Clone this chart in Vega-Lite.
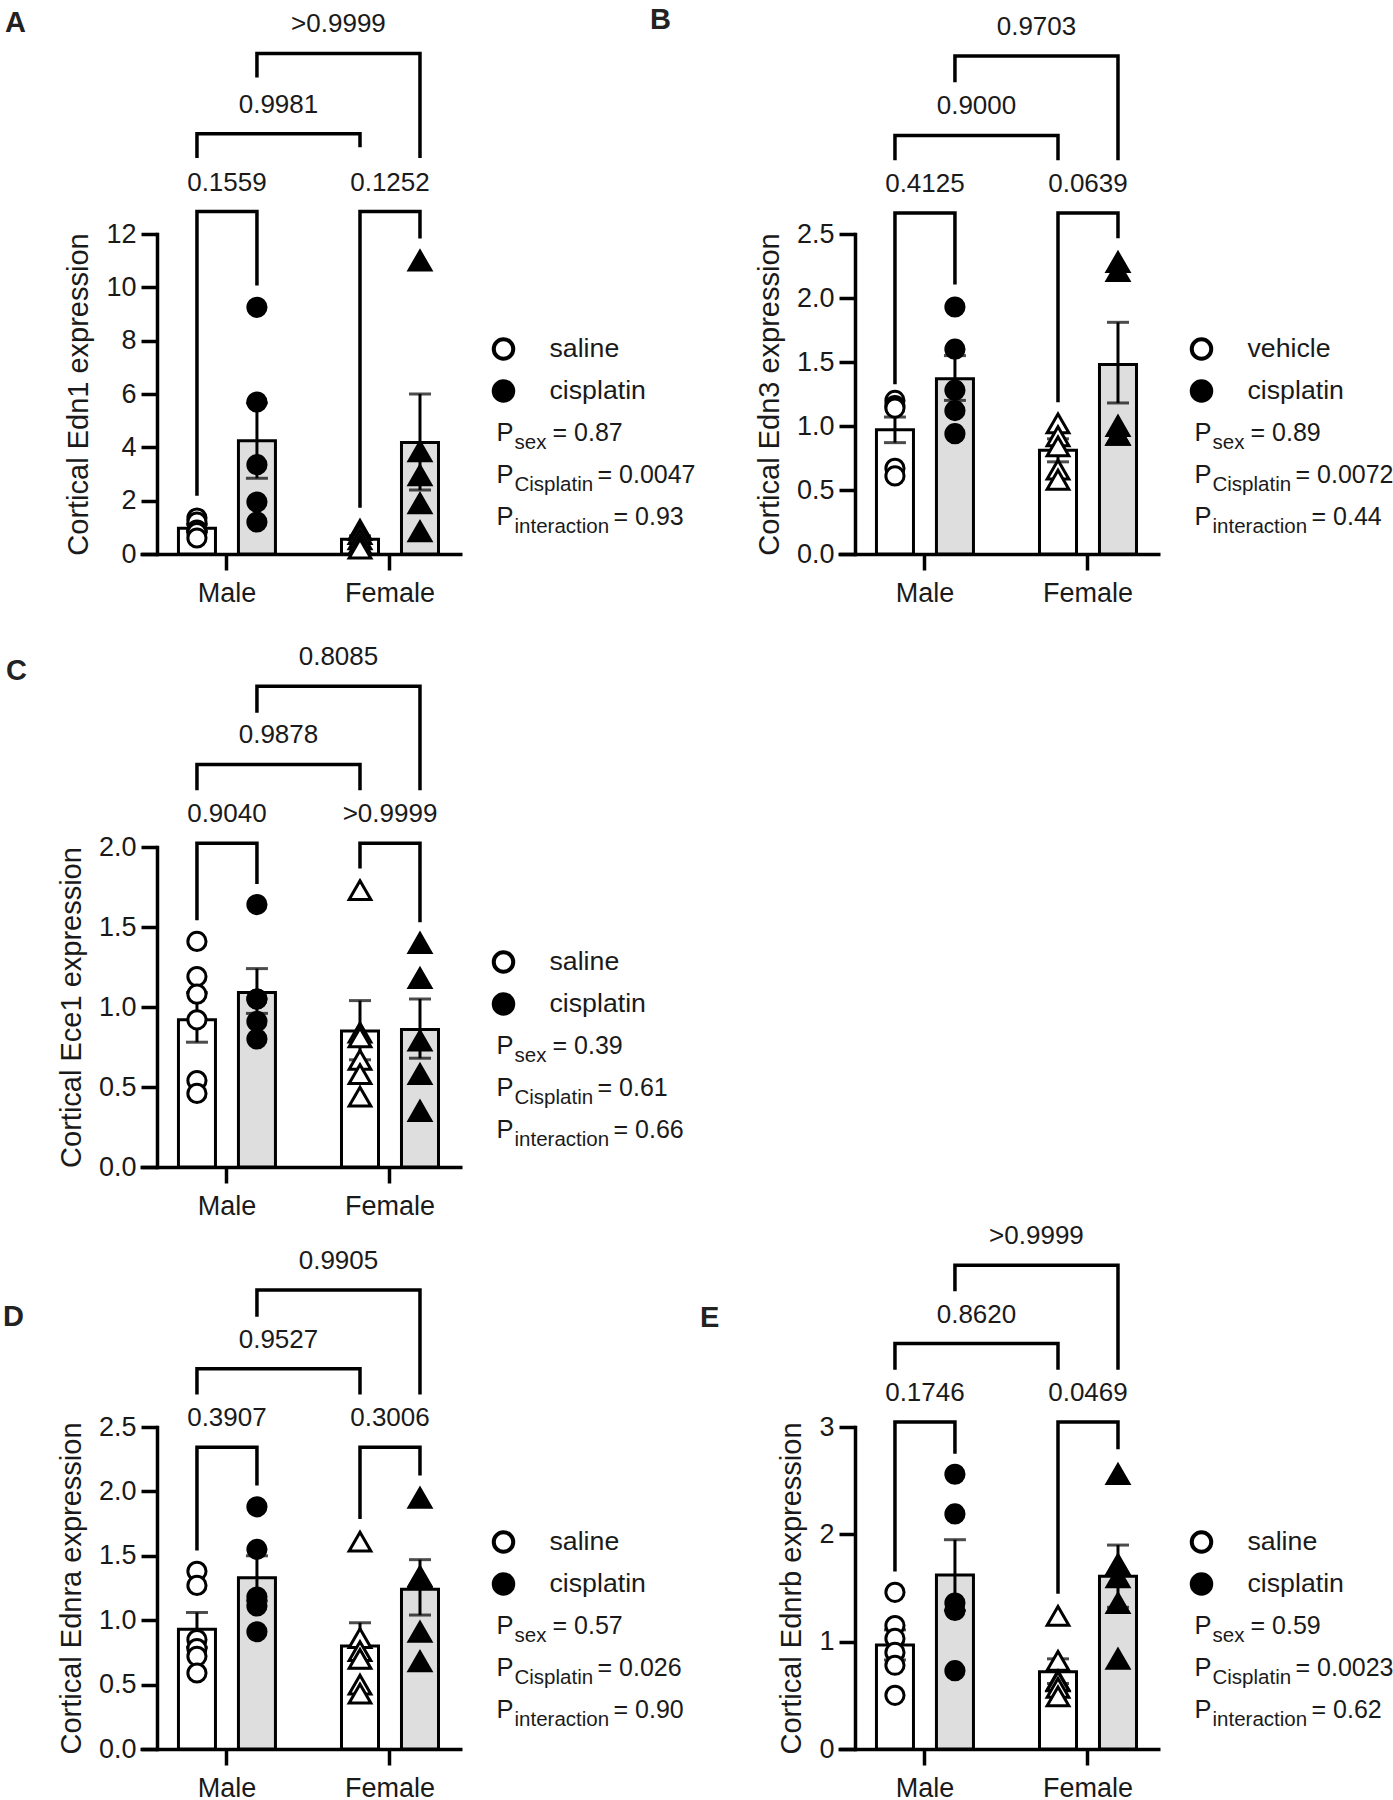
{
 "$schema": "https://vega.github.io/schema/vega-lite/v6.json",
 "padding": {"top": 6, "left": 0, "right": 0, "bottom": 0},
 "background": "white",
 "config": {
  "font": "Liberation Sans",
  "view": {"stroke": null},
  "axis": {"grid": false, "domainColor": "black", "domainWidth": 3.5, "tickColor": "black", "tickWidth": 3.5, "tickSize": 16, "labelColor": "#1a1a1a", "titleColor": "#1a1a1a", "titleFontWeight": "normal", "labelFontSize": 27, "titleFontSize": 29, "labelFont": "Liberation Sans", "titleFont": "Liberation Sans"},
  "axisY": {"labelPadding": 5, "titlePadding": 12, "offset": -17, "labelFlush": false, "labelOverlap": false, "domainCap": "square"},
  "axisX": {"labelPadding": 10, "labelFlush": false, "labelAngle": 0}
 },
 "datasets": {
  "pts": [
   {"p":"A","sex":"Male","trt":"control","v":1.35},{"p":"A","sex":"Male","trt":"control","v":1.2},{"p":"A","sex":"Male","trt":"control","v":0.9},{"p":"A","sex":"Male","trt":"control","v":0.8},{"p":"A","sex":"Male","trt":"control","v":0.6},
   {"p":"A","sex":"Male","trt":"cisplatin","v":9.25},{"p":"A","sex":"Male","trt":"cisplatin","v":5.7},{"p":"A","sex":"Male","trt":"cisplatin","v":3.35},{"p":"A","sex":"Male","trt":"cisplatin","v":1.95},{"p":"A","sex":"Male","trt":"cisplatin","v":1.2},
   {"p":"A","sex":"Female","trt":"control","v":0.9},{"p":"A","sex":"Female","trt":"control","v":0.75},{"p":"A","sex":"Female","trt":"control","v":0.55},{"p":"A","sex":"Female","trt":"control","v":0.35},{"p":"A","sex":"Female","trt":"control","v":0.2},
   {"p":"A","sex":"Female","trt":"cisplatin","v":11.0},{"p":"A","sex":"Female","trt":"cisplatin","v":3.85},{"p":"A","sex":"Female","trt":"cisplatin","v":2.95},{"p":"A","sex":"Female","trt":"cisplatin","v":1.9},{"p":"A","sex":"Female","trt":"cisplatin","v":0.85},
   {"p":"B","sex":"Male","trt":"control","v":1.2},{"p":"B","sex":"Male","trt":"control","v":1.16},{"p":"B","sex":"Male","trt":"control","v":1.14},{"p":"B","sex":"Male","trt":"control","v":0.67},{"p":"B","sex":"Male","trt":"control","v":0.61},
   {"p":"B","sex":"Male","trt":"cisplatin","v":1.93},{"p":"B","sex":"Male","trt":"cisplatin","v":1.6},{"p":"B","sex":"Male","trt":"cisplatin","v":1.28},{"p":"B","sex":"Male","trt":"cisplatin","v":1.12},{"p":"B","sex":"Male","trt":"cisplatin","v":0.94},
   {"p":"B","sex":"Female","trt":"control","v":1.02},{"p":"B","sex":"Female","trt":"control","v":0.92},{"p":"B","sex":"Female","trt":"control","v":0.84},{"p":"B","sex":"Female","trt":"control","v":0.66},{"p":"B","sex":"Female","trt":"control","v":0.58},
   {"p":"B","sex":"Female","trt":"cisplatin","v":2.28},{"p":"B","sex":"Female","trt":"cisplatin","v":2.21},{"p":"B","sex":"Female","trt":"cisplatin","v":1.0},{"p":"B","sex":"Female","trt":"cisplatin","v":0.93},{"p":"B","sex":"Female","trt":"cisplatin","v":0.93},
   {"p":"C","sex":"Male","trt":"control","v":1.41},{"p":"C","sex":"Male","trt":"control","v":1.19},{"p":"C","sex":"Male","trt":"control","v":1.08},{"p":"C","sex":"Male","trt":"control","v":0.92},{"p":"C","sex":"Male","trt":"control","v":0.54},{"p":"C","sex":"Male","trt":"control","v":0.46},
   {"p":"C","sex":"Male","trt":"cisplatin","v":1.64},{"p":"C","sex":"Male","trt":"cisplatin","v":1.05},{"p":"C","sex":"Male","trt":"cisplatin","v":1.05},{"p":"C","sex":"Male","trt":"cisplatin","v":0.91},{"p":"C","sex":"Male","trt":"cisplatin","v":0.8},
   {"p":"C","sex":"Female","trt":"control","v":1.73},{"p":"C","sex":"Female","trt":"control","v":0.84},{"p":"C","sex":"Female","trt":"control","v":0.81},{"p":"C","sex":"Female","trt":"control","v":0.67},{"p":"C","sex":"Female","trt":"control","v":0.58},{"p":"C","sex":"Female","trt":"control","v":0.44},
   {"p":"C","sex":"Female","trt":"cisplatin","v":1.4},{"p":"C","sex":"Female","trt":"cisplatin","v":1.18},{"p":"C","sex":"Female","trt":"cisplatin","v":0.79},{"p":"C","sex":"Female","trt":"cisplatin","v":0.58},{"p":"C","sex":"Female","trt":"cisplatin","v":0.35},
   {"p":"D","sex":"Male","trt":"control","v":1.38},{"p":"D","sex":"Male","trt":"control","v":1.27},{"p":"D","sex":"Male","trt":"control","v":0.85},{"p":"D","sex":"Male","trt":"control","v":0.78},{"p":"D","sex":"Male","trt":"control","v":0.72},{"p":"D","sex":"Male","trt":"control","v":0.59},
   {"p":"D","sex":"Male","trt":"cisplatin","v":1.88},{"p":"D","sex":"Male","trt":"cisplatin","v":1.55},{"p":"D","sex":"Male","trt":"cisplatin","v":1.18},{"p":"D","sex":"Male","trt":"cisplatin","v":1.11},{"p":"D","sex":"Male","trt":"cisplatin","v":0.91},
   {"p":"D","sex":"Female","trt":"control","v":1.61},{"p":"D","sex":"Female","trt":"control","v":0.86},{"p":"D","sex":"Female","trt":"control","v":0.76},{"p":"D","sex":"Female","trt":"control","v":0.7},{"p":"D","sex":"Female","trt":"control","v":0.5},{"p":"D","sex":"Female","trt":"control","v":0.43},
   {"p":"D","sex":"Female","trt":"cisplatin","v":1.95},{"p":"D","sex":"Female","trt":"cisplatin","v":1.34},{"p":"D","sex":"Female","trt":"cisplatin","v":1.33},{"p":"D","sex":"Female","trt":"cisplatin","v":0.91},{"p":"D","sex":"Female","trt":"cisplatin","v":0.68},
   {"p":"E","sex":"Male","trt":"control","v":1.46},{"p":"E","sex":"Male","trt":"control","v":1.15},{"p":"E","sex":"Male","trt":"control","v":1.03},{"p":"E","sex":"Male","trt":"control","v":0.9},{"p":"E","sex":"Male","trt":"control","v":0.78},{"p":"E","sex":"Male","trt":"control","v":0.5},
   {"p":"E","sex":"Male","trt":"cisplatin","v":2.56},{"p":"E","sex":"Male","trt":"cisplatin","v":2.19},{"p":"E","sex":"Male","trt":"cisplatin","v":1.36},{"p":"E","sex":"Male","trt":"cisplatin","v":1.29},{"p":"E","sex":"Male","trt":"cisplatin","v":0.73},
   {"p":"E","sex":"Female","trt":"control","v":1.24},{"p":"E","sex":"Female","trt":"control","v":0.82},{"p":"E","sex":"Female","trt":"control","v":0.64},{"p":"E","sex":"Female","trt":"control","v":0.63},{"p":"E","sex":"Female","trt":"control","v":0.57},{"p":"E","sex":"Female","trt":"control","v":0.49},
   {"p":"E","sex":"Female","trt":"cisplatin","v":2.56},{"p":"E","sex":"Female","trt":"cisplatin","v":1.72},{"p":"E","sex":"Female","trt":"cisplatin","v":1.6},{"p":"E","sex":"Female","trt":"cisplatin","v":1.36},{"p":"E","sex":"Female","trt":"cisplatin","v":0.84}
  ],
  "bars": [
   {"p":"A","sex":"Male","trt":"control","mean":0.97,"lo":0.84,"hi":1.11},{"p":"A","sex":"Male","trt":"cisplatin","mean":4.25,"lo":2.84,"hi":5.66},{"p":"A","sex":"Female","trt":"control","mean":0.55,"lo":0.42,"hi":0.68},{"p":"A","sex":"Female","trt":"cisplatin","mean":4.18,"lo":2.4,"hi":6.0},
   {"p":"B","sex":"Male","trt":"control","mean":0.97,"lo":0.87,"hi":1.07},{"p":"B","sex":"Male","trt":"cisplatin","mean":1.37,"lo":1.2,"hi":1.55},{"p":"B","sex":"Female","trt":"control","mean":0.81,"lo":0.72,"hi":0.9},{"p":"B","sex":"Female","trt":"cisplatin","mean":1.48,"lo":1.18,"hi":1.81},
   {"p":"C","sex":"Male","trt":"control","mean":0.92,"lo":0.78,"hi":1.09},{"p":"C","sex":"Male","trt":"cisplatin","mean":1.09,"lo":0.96,"hi":1.24},{"p":"C","sex":"Female","trt":"control","mean":0.85,"lo":0.67,"hi":1.04},{"p":"C","sex":"Female","trt":"cisplatin","mean":0.86,"lo":0.68,"hi":1.05},
   {"p":"D","sex":"Male","trt":"control","mean":0.93,"lo":0.79,"hi":1.06},{"p":"D","sex":"Male","trt":"cisplatin","mean":1.33,"lo":1.15,"hi":1.5},{"p":"D","sex":"Female","trt":"control","mean":0.8,"lo":0.63,"hi":0.98},{"p":"D","sex":"Female","trt":"cisplatin","mean":1.24,"lo":1.04,"hi":1.47},
   {"p":"E","sex":"Male","trt":"control","mean":0.97,"lo":0.83,"hi":1.11},{"p":"E","sex":"Male","trt":"cisplatin","mean":1.62,"lo":1.29,"hi":1.95},{"p":"E","sex":"Female","trt":"control","mean":0.72,"lo":0.61,"hi":0.84},{"p":"E","sex":"Female","trt":"cisplatin","mean":1.61,"lo":1.32,"hi":1.9}
  ],
  "brk": [
   {"p":"A","b":"A1","sex":"Male","trt":"control","y":2.25,"o":1},{"p":"A","b":"A1","sex":"Male","trt":"control","y":12.84,"o":2},{"p":"A","b":"A1","sex":"Male","trt":"cisplatin","y":12.84,"o":3},{"p":"A","b":"A1","sex":"Male","trt":"cisplatin","y":10.13,"o":4},
   {"p":"A","b":"A2","sex":"Female","trt":"control","y":1.8,"o":1},{"p":"A","b":"A2","sex":"Female","trt":"control","y":12.84,"o":2},{"p":"A","b":"A2","sex":"Female","trt":"cisplatin","y":12.84,"o":3},{"p":"A","b":"A2","sex":"Female","trt":"cisplatin","y":11.9,"o":4},
   {"p":"A","b":"A3","sex":"Male","trt":"control","y":14.92,"o":1},{"p":"A","b":"A3","sex":"Male","trt":"control","y":15.76,"o":2},{"p":"A","b":"A3","sex":"Female","trt":"control","y":15.76,"o":3},{"p":"A","b":"A3","sex":"Female","trt":"control","y":15.32,"o":4},
   {"p":"A","b":"A4","sex":"Male","trt":"cisplatin","y":17.93,"o":1},{"p":"A","b":"A4","sex":"Male","trt":"cisplatin","y":18.77,"o":2},{"p":"A","b":"A4","sex":"Female","trt":"cisplatin","y":18.77,"o":3},{"p":"A","b":"A4","sex":"Female","trt":"cisplatin","y":14.92,"o":4},
   {"p":"B","b":"B1","sex":"Male","trt":"control","y":1.34,"o":1},{"p":"B","b":"B1","sex":"Male","trt":"control","y":2.665,"o":2},{"p":"B","b":"B1","sex":"Male","trt":"cisplatin","y":2.665,"o":3},{"p":"B","b":"B1","sex":"Male","trt":"cisplatin","y":2.12,"o":4},
   {"p":"B","b":"B2","sex":"Female","trt":"control","y":1.2,"o":1},{"p":"B","b":"B2","sex":"Female","trt":"control","y":2.665,"o":2},{"p":"B","b":"B2","sex":"Female","trt":"cisplatin","y":2.665,"o":3},{"p":"B","b":"B2","sex":"Female","trt":"cisplatin","y":2.48,"o":4},
   {"p":"B","b":"B3","sex":"Male","trt":"control","y":3.09,"o":1},{"p":"B","b":"B3","sex":"Male","trt":"control","y":3.27,"o":2},{"p":"B","b":"B3","sex":"Female","trt":"control","y":3.27,"o":3},{"p":"B","b":"B3","sex":"Female","trt":"control","y":3.09,"o":4},
   {"p":"B","b":"B4","sex":"Male","trt":"cisplatin","y":3.7,"o":1},{"p":"B","b":"B4","sex":"Male","trt":"cisplatin","y":3.89,"o":2},{"p":"B","b":"B4","sex":"Female","trt":"cisplatin","y":3.89,"o":3},{"p":"B","b":"B4","sex":"Female","trt":"cisplatin","y":3.09,"o":4},
   {"p":"C","b":"C1","sex":"Male","trt":"control","y":1.553,"o":1},{"p":"C","b":"C1","sex":"Male","trt":"control","y":2.024,"o":2},{"p":"C","b":"C1","sex":"Male","trt":"cisplatin","y":2.024,"o":3},{"p":"C","b":"C1","sex":"Male","trt":"cisplatin","y":1.78,"o":4},
   {"p":"C","b":"C2","sex":"Female","trt":"control","y":1.876,"o":1},{"p":"C","b":"C2","sex":"Female","trt":"control","y":2.024,"o":2},{"p":"C","b":"C2","sex":"Female","trt":"cisplatin","y":2.024,"o":3},{"p":"C","b":"C2","sex":"Female","trt":"cisplatin","y":1.54,"o":4},
   {"p":"C","b":"C3","sex":"Male","trt":"control","y":2.366,"o":1},{"p":"C","b":"C3","sex":"Male","trt":"control","y":2.516,"o":2},{"p":"C","b":"C3","sex":"Female","trt":"control","y":2.516,"o":3},{"p":"C","b":"C3","sex":"Female","trt":"control","y":2.366,"o":4},
   {"p":"C","b":"C4","sex":"Male","trt":"cisplatin","y":2.85,"o":1},{"p":"C","b":"C4","sex":"Male","trt":"cisplatin","y":3.004,"o":2},{"p":"C","b":"C4","sex":"Female","trt":"cisplatin","y":3.004,"o":3},{"p":"C","b":"C4","sex":"Female","trt":"cisplatin","y":2.366,"o":4},
   {"p":"D","b":"D1","sex":"Male","trt":"control","y":1.555,"o":1},{"p":"D","b":"D1","sex":"Male","trt":"control","y":2.342,"o":2},{"p":"D","b":"D1","sex":"Male","trt":"cisplatin","y":2.342,"o":3},{"p":"D","b":"D1","sex":"Male","trt":"cisplatin","y":2.06,"o":4},
   {"p":"D","b":"D2","sex":"Female","trt":"control","y":1.8,"o":1},{"p":"D","b":"D2","sex":"Female","trt":"control","y":2.342,"o":2},{"p":"D","b":"D2","sex":"Female","trt":"cisplatin","y":2.342,"o":3},{"p":"D","b":"D2","sex":"Female","trt":"cisplatin","y":2.137,"o":4},
   {"p":"D","b":"D3","sex":"Male","trt":"control","y":2.765,"o":1},{"p":"D","b":"D3","sex":"Male","trt":"control","y":2.952,"o":2},{"p":"D","b":"D3","sex":"Female","trt":"control","y":2.952,"o":3},{"p":"D","b":"D3","sex":"Female","trt":"control","y":2.765,"o":4},
   {"p":"D","b":"D4","sex":"Male","trt":"cisplatin","y":3.37,"o":1},{"p":"D","b":"D4","sex":"Male","trt":"cisplatin","y":3.563,"o":2},{"p":"D","b":"D4","sex":"Female","trt":"cisplatin","y":3.563,"o":3},{"p":"D","b":"D4","sex":"Female","trt":"cisplatin","y":2.765,"o":4},
   {"p":"E","b":"E1","sex":"Male","trt":"control","y":1.67,"o":1},{"p":"E","b":"E1","sex":"Male","trt":"control","y":3.046,"o":2},{"p":"E","b":"E1","sex":"Male","trt":"cisplatin","y":3.046,"o":3},{"p":"E","b":"E1","sex":"Male","trt":"cisplatin","y":2.767,"o":4},
   {"p":"E","b":"E2","sex":"Female","trt":"control","y":1.462,"o":1},{"p":"E","b":"E2","sex":"Female","trt":"control","y":3.046,"o":2},{"p":"E","b":"E2","sex":"Female","trt":"cisplatin","y":3.046,"o":3},{"p":"E","b":"E2","sex":"Female","trt":"cisplatin","y":2.81,"o":4},
   {"p":"E","b":"E3","sex":"Male","trt":"control","y":3.55,"o":1},{"p":"E","b":"E3","sex":"Male","trt":"control","y":3.777,"o":2},{"p":"E","b":"E3","sex":"Female","trt":"control","y":3.777,"o":3},{"p":"E","b":"E3","sex":"Female","trt":"control","y":3.55,"o":4},
   {"p":"E","b":"E4","sex":"Male","trt":"cisplatin","y":4.28,"o":1},{"p":"E","b":"E4","sex":"Male","trt":"cisplatin","y":4.507,"o":2},{"p":"E","b":"E4","sex":"Female","trt":"cisplatin","y":4.507,"o":3},{"p":"E","b":"E4","sex":"Female","trt":"cisplatin","y":3.55,"o":4}
  ],
  "lab": [
   {"p":"A","kind":"w","sex":"Male","trt":"control","y":12.84,"t":"0.1559"},{"p":"A","kind":"w","sex":"Female","trt":"control","y":12.84,"t":"0.1252"},{"p":"A","kind":"x","sex":"Male vs Female","trt":"control","y":15.76,"t":"0.9981"},{"p":"A","kind":"x","sex":"Male vs Female","trt":"cisplatin","y":18.77,"t":">0.9999"},
   {"p":"B","kind":"w","sex":"Male","trt":"control","y":2.665,"t":"0.4125"},{"p":"B","kind":"w","sex":"Female","trt":"control","y":2.665,"t":"0.0639"},{"p":"B","kind":"x","sex":"Male vs Female","trt":"control","y":3.27,"t":"0.9000"},{"p":"B","kind":"x","sex":"Male vs Female","trt":"cisplatin","y":3.89,"t":"0.9703"},
   {"p":"C","kind":"w","sex":"Male","trt":"control","y":2.024,"t":"0.9040"},{"p":"C","kind":"w","sex":"Female","trt":"control","y":2.024,"t":">0.9999"},{"p":"C","kind":"x","sex":"Male vs Female","trt":"control","y":2.516,"t":"0.9878"},{"p":"C","kind":"x","sex":"Male vs Female","trt":"cisplatin","y":3.004,"t":"0.8085"},
   {"p":"D","kind":"w","sex":"Male","trt":"control","y":2.342,"t":"0.3907"},{"p":"D","kind":"w","sex":"Female","trt":"control","y":2.342,"t":"0.3006"},{"p":"D","kind":"x","sex":"Male vs Female","trt":"control","y":2.952,"t":"0.9527"},{"p":"D","kind":"x","sex":"Male vs Female","trt":"cisplatin","y":3.563,"t":"0.9905"},
   {"p":"E","kind":"w","sex":"Male","trt":"control","y":3.046,"t":"0.1746"},{"p":"E","kind":"w","sex":"Female","trt":"control","y":3.046,"t":"0.0469"},{"p":"E","kind":"x","sex":"Male vs Female","trt":"control","y":3.777,"t":"0.8620"},{"p":"E","kind":"x","sex":"Male vs Female","trt":"cisplatin","y":4.507,"t":">0.9999"}
  ],
  "ann": [
   {"p":"A","k":"o","t":"saline"},{"p":"A","k":"f","t":"cisplatin"},{"p":"A","k":"sex","t":"sex","val":"= 0.87"},{"p":"A","k":"cis","t":"Cisplatin","val":"= 0.0047"},{"p":"A","k":"int","t":"interaction","val":"= 0.93"},
   {"p":"B","k":"o","t":"vehicle"},{"p":"B","k":"f","t":"cisplatin"},{"p":"B","k":"sex","t":"sex","val":"= 0.89"},{"p":"B","k":"cis","t":"Cisplatin","val":"= 0.0072"},{"p":"B","k":"int","t":"interaction","val":"= 0.44"},
   {"p":"C","k":"o","t":"saline"},{"p":"C","k":"f","t":"cisplatin"},{"p":"C","k":"sex","t":"sex","val":"= 0.39"},{"p":"C","k":"cis","t":"Cisplatin","val":"= 0.61"},{"p":"C","k":"int","t":"interaction","val":"= 0.66"},
   {"p":"D","k":"o","t":"saline"},{"p":"D","k":"f","t":"cisplatin"},{"p":"D","k":"sex","t":"sex","val":"= 0.57"},{"p":"D","k":"cis","t":"Cisplatin","val":"= 0.026"},{"p":"D","k":"int","t":"interaction","val":"= 0.90"},
   {"p":"E","k":"o","t":"saline"},{"p":"E","k":"f","t":"cisplatin"},{"p":"E","k":"sex","t":"sex","val":"= 0.59"},{"p":"E","k":"cis","t":"Cisplatin","val":"= 0.0023"},{"p":"E","k":"int","t":"interaction","val":"= 0.62"}
  ]
 },
 "columns": 6,
 "spacing": {"row": 260, "column": 0},
 "bounds": "flush",
 "align": {"row": "each", "column": "none"},
 "concat": [
  {"width": 140, "height": 353, "data": {"values": []}, "mark": "point",
   "title": {"text": "A", "anchor": "start", "frame": "group", "fontSize": 29, "fontWeight": "bold", "baseline": "top", "dx": 5, "offset": 196, "color": "#222222"}},
  {"width": 322, "height": 320,
   "encoding": {"x": {"field": "sex", "type": "nominal", "scale": {"type": "band", "domain": ["Male", "Male vs Female", "Female"], "paddingInner": 1, "paddingOuter": 0.975, "align": 0.547}, "axis": {"values": ["Male", "Female"], "title": null}}},
   "layer": [
    {"data": {"name": "bars"}, "transform": [{"filter": "datum.p == 'A'"}], "mark": {"type": "bar", "stroke": "black", "strokeWidth": 3},
     "encoding": {"xOffset": {"field": "trt", "type": "nominal", "scale": {"domain": ["control", "cisplatin"], "range": [-48.5, 48.5], "paddingInner": 0.383, "paddingOuter": 0}},
      "y": {"field": "mean", "type": "quantitative", "scale": {"domain": [0, 12], "nice": false}, "axis": {"values": [0, 2, 4, 6, 8, 10, 12], "format": "d", "title": "Cortical Edn1 expression"}},
      "fill": {"field": "trt", "type": "nominal", "scale": {"domain": ["control", "cisplatin"], "range": ["white", "#dedede"]}, "legend": null}}},
    {"data": {"name": "bars"}, "transform": [{"filter": "datum.p == 'A'"}], "mark": {"type": "rule", "color": "black", "strokeWidth": 3},
     "encoding": {"xOffset": {"field": "trt", "type": "nominal"}, "y": {"field": "lo", "type": "quantitative"}, "y2": {"field": "hi"}}},
    {"data": {"name": "bars"}, "transform": [{"filter": "datum.p == 'A'"}, {"fold": ["lo", "hi"], "as": ["end", "ev"]}], "mark": {"type": "tick", "color": "black", "thickness": 3, "size": 22},
     "encoding": {"xOffset": {"field": "trt", "type": "nominal"}, "y": {"field": "ev", "type": "quantitative"}}},
    {"data": {"name": "pts"}, "transform": [{"filter": "datum.p == 'A'"}], "mark": {"type": "point", "filled": true, "stroke": "black", "strokeWidth": 3, "opacity": 1},
     "encoding": {"xOffset": {"field": "trt", "type": "nominal"}, "y": {"field": "v", "type": "quantitative"},
      "shape": {"field": "sex", "type": "nominal", "scale": {"domain": ["Male", "Female"], "range": ["circle", "triangle-up"]}, "legend": null},
      "size": {"field": "sex", "type": "nominal", "scale": {"domain": ["Male", "Female"], "range": [330, 470]}, "legend": null},
      "fill": {"field": "trt", "type": "nominal", "scale": {"domain": ["control", "cisplatin"], "range": ["white", "black"]}, "legend": null}}},
    {"data": {"name": "brk"}, "transform": [{"filter": "datum.p == 'A'"}], "mark": {"type": "line", "color": "black", "strokeWidth": 3.5, "strokeJoin": "miter", "strokeCap": "square"},
     "encoding": {"xOffset": {"field": "trt", "type": "nominal"}, "y": {"field": "y", "type": "quantitative"}, "detail": {"field": "b", "type": "nominal"}, "order": {"field": "o", "type": "quantitative"}}},
    {"data": {"name": "lab"}, "transform": [{"filter": "datum.p == 'A' && datum.kind == 'w'"}], "mark": {"type": "text", "fontSize": 26, "baseline": "middle", "dy": -29, "color": "#1a1a1a"},
     "encoding": {"y": {"field": "y", "type": "quantitative"}, "text": {"field": "t", "type": "nominal"}}},
    {"data": {"name": "lab"}, "transform": [{"filter": "datum.p == 'A' && datum.kind == 'x'"}], "mark": {"type": "text", "fontSize": 26, "baseline": "middle", "dy": -29, "color": "#1a1a1a"},
     "encoding": {"xOffset": {"field": "trt", "type": "nominal"}, "y": {"field": "y", "type": "quantitative"}, "text": {"field": "t", "type": "nominal"}}}
   ],
   "resolve": {"scale": {"fill": "independent"}}
  },
  {"width": 1, "height": 320, "data": {"name": "ann"}, "transform": [{"filter": "datum.p == 'A'"}],
   "encoding": {"y": {"field": "k", "type": "nominal", "scale": {"type": "point", "domain": ["o", "f", "sex", "cis", "int"], "range": [115, 283], "padding": 0}, "axis": null}},
   "layer": [
    {"transform": [{"filter": "datum.val == null"}], "mark": {"type": "point", "shape": "circle", "size": 380, "filled": true, "stroke": "black", "strokeWidth": 4, "opacity": 1, "xOffset": 41},
     "encoding": {"fill": {"field": "k", "type": "nominal", "scale": {"domain": ["o", "f"], "range": ["white", "black"]}, "legend": null}}},
    {"transform": [{"filter": "datum.val == null"}], "mark": {"type": "text", "align": "left", "baseline": "middle", "dx": 87, "fontSize": 26.7, "color": "#1a1a1a"}, "encoding": {"text": {"field": "t", "type": "nominal"}}},
    {"transform": [{"filter": "datum.val != null"}], "mark": {"type": "text", "align": "left", "baseline": "middle", "dx": 34, "fontSize": 25.5, "color": "#1a1a1a"}, "encoding": {"text": {"value": "P"}}},
    {"transform": [{"filter": "datum.val != null"}], "mark": {"type": "text", "align": "left", "baseline": "middle", "dx": 52, "dy": 10, "fontSize": 20.5, "color": "#1a1a1a"}, "encoding": {"text": {"field": "t", "type": "nominal"}}},
    {"transform": [{"filter": "datum.k == 'sex'"}], "mark": {"type": "text", "align": "left", "baseline": "middle", "dx": 90, "fontSize": 25, "color": "#1a1a1a"}, "encoding": {"text": {"field": "val", "type": "nominal"}}},
    {"transform": [{"filter": "datum.k == 'cis'"}], "mark": {"type": "text", "align": "left", "baseline": "middle", "dx": 135, "fontSize": 25, "color": "#1a1a1a"}, "encoding": {"text": {"field": "val", "type": "nominal"}}},
    {"transform": [{"filter": "datum.k == 'int'"}], "mark": {"type": "text", "align": "left", "baseline": "middle", "dx": 151, "fontSize": 25, "color": "#1a1a1a"}, "encoding": {"text": {"field": "val", "type": "nominal"}}}
   ]
  },
  {"width": 375, "height": 320, "data": {"values": []}, "mark": "point",
   "title": {"text": "B", "anchor": "start", "frame": "group", "fontSize": 29, "fontWeight": "bold", "baseline": "top", "dx": 187, "offset": 199, "color": "#222222"}},
  {"width": 322, "height": 320,
   "encoding": {"x": {"field": "sex", "type": "nominal", "scale": {"type": "band", "domain": ["Male", "Male vs Female", "Female"], "paddingInner": 1, "paddingOuter": 0.975, "align": 0.547}, "axis": {"values": ["Male", "Female"], "title": null}}},
   "layer": [
    {"data": {"name": "bars"}, "transform": [{"filter": "datum.p == 'B'"}], "mark": {"type": "bar", "stroke": "black", "strokeWidth": 3},
     "encoding": {"xOffset": {"field": "trt", "type": "nominal", "scale": {"domain": ["control", "cisplatin"], "range": [-48.5, 48.5], "paddingInner": 0.383, "paddingOuter": 0}},
      "y": {"field": "mean", "type": "quantitative", "scale": {"domain": [0, 2.5], "nice": false}, "axis": {"values": [0, 0.5, 1, 1.5, 2, 2.5], "format": ".1f", "title": "Cortical Edn3 expression"}},
      "fill": {"field": "trt", "type": "nominal", "scale": {"domain": ["control", "cisplatin"], "range": ["white", "#dedede"]}, "legend": null}}},
    {"data": {"name": "bars"}, "transform": [{"filter": "datum.p == 'B'"}], "mark": {"type": "rule", "color": "black", "strokeWidth": 3},
     "encoding": {"xOffset": {"field": "trt", "type": "nominal"}, "y": {"field": "lo", "type": "quantitative"}, "y2": {"field": "hi"}}},
    {"data": {"name": "bars"}, "transform": [{"filter": "datum.p == 'B'"}, {"fold": ["lo", "hi"], "as": ["end", "ev"]}], "mark": {"type": "tick", "color": "black", "thickness": 3, "size": 22},
     "encoding": {"xOffset": {"field": "trt", "type": "nominal"}, "y": {"field": "ev", "type": "quantitative"}}},
    {"data": {"name": "pts"}, "transform": [{"filter": "datum.p == 'B'"}], "mark": {"type": "point", "filled": true, "stroke": "black", "strokeWidth": 3, "opacity": 1},
     "encoding": {"xOffset": {"field": "trt", "type": "nominal"}, "y": {"field": "v", "type": "quantitative"},
      "shape": {"field": "sex", "type": "nominal", "scale": {"domain": ["Male", "Female"], "range": ["circle", "triangle-up"]}, "legend": null},
      "size": {"field": "sex", "type": "nominal", "scale": {"domain": ["Male", "Female"], "range": [330, 470]}, "legend": null},
      "fill": {"field": "trt", "type": "nominal", "scale": {"domain": ["control", "cisplatin"], "range": ["white", "black"]}, "legend": null}}},
    {"data": {"name": "brk"}, "transform": [{"filter": "datum.p == 'B'"}], "mark": {"type": "line", "color": "black", "strokeWidth": 3.5, "strokeJoin": "miter", "strokeCap": "square"},
     "encoding": {"xOffset": {"field": "trt", "type": "nominal"}, "y": {"field": "y", "type": "quantitative"}, "detail": {"field": "b", "type": "nominal"}, "order": {"field": "o", "type": "quantitative"}}},
    {"data": {"name": "lab"}, "transform": [{"filter": "datum.p == 'B' && datum.kind == 'w'"}], "mark": {"type": "text", "fontSize": 26, "baseline": "middle", "dy": -29, "color": "#1a1a1a"},
     "encoding": {"y": {"field": "y", "type": "quantitative"}, "text": {"field": "t", "type": "nominal"}}},
    {"data": {"name": "lab"}, "transform": [{"filter": "datum.p == 'B' && datum.kind == 'x'"}], "mark": {"type": "text", "fontSize": 26, "baseline": "middle", "dy": -29, "color": "#1a1a1a"},
     "encoding": {"xOffset": {"field": "trt", "type": "nominal"}, "y": {"field": "y", "type": "quantitative"}, "text": {"field": "t", "type": "nominal"}}}
   ],
   "resolve": {"scale": {"fill": "independent"}}
  },
  {"width": 1, "height": 320, "data": {"name": "ann"}, "transform": [{"filter": "datum.p == 'B'"}],
   "encoding": {"y": {"field": "k", "type": "nominal", "scale": {"type": "point", "domain": ["o", "f", "sex", "cis", "int"], "range": [115, 283], "padding": 0}, "axis": null}},
   "layer": [
    {"transform": [{"filter": "datum.val == null"}], "mark": {"type": "point", "shape": "circle", "size": 380, "filled": true, "stroke": "black", "strokeWidth": 4, "opacity": 1, "xOffset": 41},
     "encoding": {"fill": {"field": "k", "type": "nominal", "scale": {"domain": ["o", "f"], "range": ["white", "black"]}, "legend": null}}},
    {"transform": [{"filter": "datum.val == null"}], "mark": {"type": "text", "align": "left", "baseline": "middle", "dx": 87, "fontSize": 26.7, "color": "#1a1a1a"}, "encoding": {"text": {"field": "t", "type": "nominal"}}},
    {"transform": [{"filter": "datum.val != null"}], "mark": {"type": "text", "align": "left", "baseline": "middle", "dx": 34, "fontSize": 25.5, "color": "#1a1a1a"}, "encoding": {"text": {"value": "P"}}},
    {"transform": [{"filter": "datum.val != null"}], "mark": {"type": "text", "align": "left", "baseline": "middle", "dx": 52, "dy": 10, "fontSize": 20.5, "color": "#1a1a1a"}, "encoding": {"text": {"field": "t", "type": "nominal"}}},
    {"transform": [{"filter": "datum.k == 'sex'"}], "mark": {"type": "text", "align": "left", "baseline": "middle", "dx": 90, "fontSize": 25, "color": "#1a1a1a"}, "encoding": {"text": {"field": "val", "type": "nominal"}}},
    {"transform": [{"filter": "datum.k == 'cis'"}], "mark": {"type": "text", "align": "left", "baseline": "middle", "dx": 135, "fontSize": 25, "color": "#1a1a1a"}, "encoding": {"text": {"field": "val", "type": "nominal"}}},
    {"transform": [{"filter": "datum.k == 'int'"}], "mark": {"type": "text", "align": "left", "baseline": "middle", "dx": 151, "fontSize": 25, "color": "#1a1a1a"}, "encoding": {"text": {"field": "val", "type": "nominal"}}}
   ]
  },
  {"width": 122, "height": 320, "data": {"values": []}, "mark": "point",
   "title": {"text": "C", "anchor": "start", "frame": "group", "fontSize": 29, "fontWeight": "bold", "baseline": "top", "dx": 6, "offset": 161, "color": "#222222"}},
  {"width": 322, "height": 320,
   "encoding": {"x": {"field": "sex", "type": "nominal", "scale": {"type": "band", "domain": ["Male", "Male vs Female", "Female"], "paddingInner": 1, "paddingOuter": 0.975, "align": 0.547}, "axis": {"values": ["Male", "Female"], "title": null}}},
   "layer": [
    {"data": {"name": "bars"}, "transform": [{"filter": "datum.p == 'C'"}], "mark": {"type": "bar", "stroke": "black", "strokeWidth": 3},
     "encoding": {"xOffset": {"field": "trt", "type": "nominal", "scale": {"domain": ["control", "cisplatin"], "range": [-48.5, 48.5], "paddingInner": 0.383, "paddingOuter": 0}},
      "y": {"field": "mean", "type": "quantitative", "scale": {"domain": [0, 2], "nice": false}, "axis": {"values": [0, 0.5, 1, 1.5, 2], "format": ".1f", "title": "Cortical Ece1 expression"}},
      "fill": {"field": "trt", "type": "nominal", "scale": {"domain": ["control", "cisplatin"], "range": ["white", "#dedede"]}, "legend": null}}},
    {"data": {"name": "bars"}, "transform": [{"filter": "datum.p == 'C'"}], "mark": {"type": "rule", "color": "black", "strokeWidth": 3},
     "encoding": {"xOffset": {"field": "trt", "type": "nominal"}, "y": {"field": "lo", "type": "quantitative"}, "y2": {"field": "hi"}}},
    {"data": {"name": "bars"}, "transform": [{"filter": "datum.p == 'C'"}, {"fold": ["lo", "hi"], "as": ["end", "ev"]}], "mark": {"type": "tick", "color": "black", "thickness": 3, "size": 22},
     "encoding": {"xOffset": {"field": "trt", "type": "nominal"}, "y": {"field": "ev", "type": "quantitative"}}},
    {"data": {"name": "pts"}, "transform": [{"filter": "datum.p == 'C'"}], "mark": {"type": "point", "filled": true, "stroke": "black", "strokeWidth": 3, "opacity": 1},
     "encoding": {"xOffset": {"field": "trt", "type": "nominal"}, "y": {"field": "v", "type": "quantitative"},
      "shape": {"field": "sex", "type": "nominal", "scale": {"domain": ["Male", "Female"], "range": ["circle", "triangle-up"]}, "legend": null},
      "size": {"field": "sex", "type": "nominal", "scale": {"domain": ["Male", "Female"], "range": [330, 470]}, "legend": null},
      "fill": {"field": "trt", "type": "nominal", "scale": {"domain": ["control", "cisplatin"], "range": ["white", "black"]}, "legend": null}}},
    {"data": {"name": "brk"}, "transform": [{"filter": "datum.p == 'C'"}], "mark": {"type": "line", "color": "black", "strokeWidth": 3.5, "strokeJoin": "miter", "strokeCap": "square"},
     "encoding": {"xOffset": {"field": "trt", "type": "nominal"}, "y": {"field": "y", "type": "quantitative"}, "detail": {"field": "b", "type": "nominal"}, "order": {"field": "o", "type": "quantitative"}}},
    {"data": {"name": "lab"}, "transform": [{"filter": "datum.p == 'C' && datum.kind == 'w'"}], "mark": {"type": "text", "fontSize": 26, "baseline": "middle", "dy": -29, "color": "#1a1a1a"},
     "encoding": {"y": {"field": "y", "type": "quantitative"}, "text": {"field": "t", "type": "nominal"}}},
    {"data": {"name": "lab"}, "transform": [{"filter": "datum.p == 'C' && datum.kind == 'x'"}], "mark": {"type": "text", "fontSize": 26, "baseline": "middle", "dy": -29, "color": "#1a1a1a"},
     "encoding": {"xOffset": {"field": "trt", "type": "nominal"}, "y": {"field": "y", "type": "quantitative"}, "text": {"field": "t", "type": "nominal"}}}
   ],
   "resolve": {"scale": {"fill": "independent"}}
  },
  {"width": 1, "height": 320, "data": {"name": "ann"}, "transform": [{"filter": "datum.p == 'C'"}],
   "encoding": {"y": {"field": "k", "type": "nominal", "scale": {"type": "point", "domain": ["o", "f", "sex", "cis", "int"], "range": [115, 283], "padding": 0}, "axis": null}},
   "layer": [
    {"transform": [{"filter": "datum.val == null"}], "mark": {"type": "point", "shape": "circle", "size": 380, "filled": true, "stroke": "black", "strokeWidth": 4, "opacity": 1, "xOffset": 41},
     "encoding": {"fill": {"field": "k", "type": "nominal", "scale": {"domain": ["o", "f"], "range": ["white", "black"]}, "legend": null}}},
    {"transform": [{"filter": "datum.val == null"}], "mark": {"type": "text", "align": "left", "baseline": "middle", "dx": 87, "fontSize": 26.7, "color": "#1a1a1a"}, "encoding": {"text": {"field": "t", "type": "nominal"}}},
    {"transform": [{"filter": "datum.val != null"}], "mark": {"type": "text", "align": "left", "baseline": "middle", "dx": 34, "fontSize": 25.5, "color": "#1a1a1a"}, "encoding": {"text": {"value": "P"}}},
    {"transform": [{"filter": "datum.val != null"}], "mark": {"type": "text", "align": "left", "baseline": "middle", "dx": 52, "dy": 10, "fontSize": 20.5, "color": "#1a1a1a"}, "encoding": {"text": {"field": "t", "type": "nominal"}}},
    {"transform": [{"filter": "datum.k == 'sex'"}], "mark": {"type": "text", "align": "left", "baseline": "middle", "dx": 90, "fontSize": 25, "color": "#1a1a1a"}, "encoding": {"text": {"field": "val", "type": "nominal"}}},
    {"transform": [{"filter": "datum.k == 'cis'"}], "mark": {"type": "text", "align": "left", "baseline": "middle", "dx": 135, "fontSize": 25, "color": "#1a1a1a"}, "encoding": {"text": {"field": "val", "type": "nominal"}}},
    {"transform": [{"filter": "datum.k == 'int'"}], "mark": {"type": "text", "align": "left", "baseline": "middle", "dx": 151, "fontSize": 25, "color": "#1a1a1a"}, "encoding": {"text": {"field": "val", "type": "nominal"}}}
   ]
  },
  {"width": 1, "height": 1, "data": {"values": []}, "mark": "point"},
  {"width": 1, "height": 1, "data": {"values": []}, "mark": "point"},
  {"width": 1, "height": 1, "data": {"values": []}, "mark": "point"},
  {"width": 108, "height": 322, "data": {"values": []}, "mark": "point",
   "title": {"text": "D", "anchor": "start", "frame": "group", "fontSize": 29, "fontWeight": "bold", "baseline": "top", "dx": 3, "offset": 95, "color": "#222222"}},
  {"width": 322, "height": 322,
   "encoding": {"x": {"field": "sex", "type": "nominal", "scale": {"type": "band", "domain": ["Male", "Male vs Female", "Female"], "paddingInner": 1, "paddingOuter": 0.975, "align": 0.547}, "axis": {"values": ["Male", "Female"], "title": null}}},
   "layer": [
    {"data": {"name": "bars"}, "transform": [{"filter": "datum.p == 'D'"}], "mark": {"type": "bar", "stroke": "black", "strokeWidth": 3},
     "encoding": {"xOffset": {"field": "trt", "type": "nominal", "scale": {"domain": ["control", "cisplatin"], "range": [-48.5, 48.5], "paddingInner": 0.383, "paddingOuter": 0}},
      "y": {"field": "mean", "type": "quantitative", "scale": {"domain": [0, 2.5], "nice": false}, "axis": {"values": [0, 0.5, 1, 1.5, 2, 2.5], "format": ".1f", "title": "Cortical Ednra expression"}},
      "fill": {"field": "trt", "type": "nominal", "scale": {"domain": ["control", "cisplatin"], "range": ["white", "#dedede"]}, "legend": null}}},
    {"data": {"name": "bars"}, "transform": [{"filter": "datum.p == 'D'"}], "mark": {"type": "rule", "color": "black", "strokeWidth": 3},
     "encoding": {"xOffset": {"field": "trt", "type": "nominal"}, "y": {"field": "lo", "type": "quantitative"}, "y2": {"field": "hi"}}},
    {"data": {"name": "bars"}, "transform": [{"filter": "datum.p == 'D'"}, {"fold": ["lo", "hi"], "as": ["end", "ev"]}], "mark": {"type": "tick", "color": "black", "thickness": 3, "size": 22},
     "encoding": {"xOffset": {"field": "trt", "type": "nominal"}, "y": {"field": "ev", "type": "quantitative"}}},
    {"data": {"name": "pts"}, "transform": [{"filter": "datum.p == 'D'"}], "mark": {"type": "point", "filled": true, "stroke": "black", "strokeWidth": 3, "opacity": 1},
     "encoding": {"xOffset": {"field": "trt", "type": "nominal"}, "y": {"field": "v", "type": "quantitative"},
      "shape": {"field": "sex", "type": "nominal", "scale": {"domain": ["Male", "Female"], "range": ["circle", "triangle-up"]}, "legend": null},
      "size": {"field": "sex", "type": "nominal", "scale": {"domain": ["Male", "Female"], "range": [330, 470]}, "legend": null},
      "fill": {"field": "trt", "type": "nominal", "scale": {"domain": ["control", "cisplatin"], "range": ["white", "black"]}, "legend": null}}},
    {"data": {"name": "brk"}, "transform": [{"filter": "datum.p == 'D'"}], "mark": {"type": "line", "color": "black", "strokeWidth": 3.5, "strokeJoin": "miter", "strokeCap": "square"},
     "encoding": {"xOffset": {"field": "trt", "type": "nominal"}, "y": {"field": "y", "type": "quantitative"}, "detail": {"field": "b", "type": "nominal"}, "order": {"field": "o", "type": "quantitative"}}},
    {"data": {"name": "lab"}, "transform": [{"filter": "datum.p == 'D' && datum.kind == 'w'"}], "mark": {"type": "text", "fontSize": 26, "baseline": "middle", "dy": -29, "color": "#1a1a1a"},
     "encoding": {"y": {"field": "y", "type": "quantitative"}, "text": {"field": "t", "type": "nominal"}}},
    {"data": {"name": "lab"}, "transform": [{"filter": "datum.p == 'D' && datum.kind == 'x'"}], "mark": {"type": "text", "fontSize": 26, "baseline": "middle", "dy": -29, "color": "#1a1a1a"},
     "encoding": {"xOffset": {"field": "trt", "type": "nominal"}, "y": {"field": "y", "type": "quantitative"}, "text": {"field": "t", "type": "nominal"}}}
   ],
   "resolve": {"scale": {"fill": "independent"}}
  },
  {"width": 1, "height": 322, "data": {"name": "ann"}, "transform": [{"filter": "datum.p == 'D'"}],
   "encoding": {"y": {"field": "k", "type": "nominal", "scale": {"type": "point", "domain": ["o", "f", "sex", "cis", "int"], "range": [115, 283], "padding": 0}, "axis": null}},
   "layer": [
    {"transform": [{"filter": "datum.val == null"}], "mark": {"type": "point", "shape": "circle", "size": 380, "filled": true, "stroke": "black", "strokeWidth": 4, "opacity": 1, "xOffset": 41},
     "encoding": {"fill": {"field": "k", "type": "nominal", "scale": {"domain": ["o", "f"], "range": ["white", "black"]}, "legend": null}}},
    {"transform": [{"filter": "datum.val == null"}], "mark": {"type": "text", "align": "left", "baseline": "middle", "dx": 87, "fontSize": 26.7, "color": "#1a1a1a"}, "encoding": {"text": {"field": "t", "type": "nominal"}}},
    {"transform": [{"filter": "datum.val != null"}], "mark": {"type": "text", "align": "left", "baseline": "middle", "dx": 34, "fontSize": 25.5, "color": "#1a1a1a"}, "encoding": {"text": {"value": "P"}}},
    {"transform": [{"filter": "datum.val != null"}], "mark": {"type": "text", "align": "left", "baseline": "middle", "dx": 52, "dy": 10, "fontSize": 20.5, "color": "#1a1a1a"}, "encoding": {"text": {"field": "t", "type": "nominal"}}},
    {"transform": [{"filter": "datum.k == 'sex'"}], "mark": {"type": "text", "align": "left", "baseline": "middle", "dx": 90, "fontSize": 25, "color": "#1a1a1a"}, "encoding": {"text": {"field": "val", "type": "nominal"}}},
    {"transform": [{"filter": "datum.k == 'cis'"}], "mark": {"type": "text", "align": "left", "baseline": "middle", "dx": 135, "fontSize": 25, "color": "#1a1a1a"}, "encoding": {"text": {"field": "val", "type": "nominal"}}},
    {"transform": [{"filter": "datum.k == 'int'"}], "mark": {"type": "text", "align": "left", "baseline": "middle", "dx": 151, "fontSize": 25, "color": "#1a1a1a"}, "encoding": {"text": {"field": "val", "type": "nominal"}}}
   ]
  },
  {"width": 354, "height": 322, "data": {"values": []}, "mark": "point",
   "title": {"text": "E", "anchor": "start", "frame": "group", "fontSize": 29, "fontWeight": "bold", "baseline": "top", "dx": 237, "offset": 94, "color": "#222222"}},
  {"width": 322, "height": 322,
   "encoding": {"x": {"field": "sex", "type": "nominal", "scale": {"type": "band", "domain": ["Male", "Male vs Female", "Female"], "paddingInner": 1, "paddingOuter": 0.975, "align": 0.547}, "axis": {"values": ["Male", "Female"], "title": null}}},
   "layer": [
    {"data": {"name": "bars"}, "transform": [{"filter": "datum.p == 'E'"}], "mark": {"type": "bar", "stroke": "black", "strokeWidth": 3},
     "encoding": {"xOffset": {"field": "trt", "type": "nominal", "scale": {"domain": ["control", "cisplatin"], "range": [-48.5, 48.5], "paddingInner": 0.383, "paddingOuter": 0}},
      "y": {"field": "mean", "type": "quantitative", "scale": {"domain": [0, 3], "nice": false}, "axis": {"values": [0, 1, 2, 3], "format": "d", "title": "Cortical Ednrb expression"}},
      "fill": {"field": "trt", "type": "nominal", "scale": {"domain": ["control", "cisplatin"], "range": ["white", "#dedede"]}, "legend": null}}},
    {"data": {"name": "bars"}, "transform": [{"filter": "datum.p == 'E'"}], "mark": {"type": "rule", "color": "black", "strokeWidth": 3},
     "encoding": {"xOffset": {"field": "trt", "type": "nominal"}, "y": {"field": "lo", "type": "quantitative"}, "y2": {"field": "hi"}}},
    {"data": {"name": "bars"}, "transform": [{"filter": "datum.p == 'E'"}, {"fold": ["lo", "hi"], "as": ["end", "ev"]}], "mark": {"type": "tick", "color": "black", "thickness": 3, "size": 22},
     "encoding": {"xOffset": {"field": "trt", "type": "nominal"}, "y": {"field": "ev", "type": "quantitative"}}},
    {"data": {"name": "pts"}, "transform": [{"filter": "datum.p == 'E'"}], "mark": {"type": "point", "filled": true, "stroke": "black", "strokeWidth": 3, "opacity": 1},
     "encoding": {"xOffset": {"field": "trt", "type": "nominal"}, "y": {"field": "v", "type": "quantitative"},
      "shape": {"field": "sex", "type": "nominal", "scale": {"domain": ["Male", "Female"], "range": ["circle", "triangle-up"]}, "legend": null},
      "size": {"field": "sex", "type": "nominal", "scale": {"domain": ["Male", "Female"], "range": [330, 470]}, "legend": null},
      "fill": {"field": "trt", "type": "nominal", "scale": {"domain": ["control", "cisplatin"], "range": ["white", "black"]}, "legend": null}}},
    {"data": {"name": "brk"}, "transform": [{"filter": "datum.p == 'E'"}], "mark": {"type": "line", "color": "black", "strokeWidth": 3.5, "strokeJoin": "miter", "strokeCap": "square"},
     "encoding": {"xOffset": {"field": "trt", "type": "nominal"}, "y": {"field": "y", "type": "quantitative"}, "detail": {"field": "b", "type": "nominal"}, "order": {"field": "o", "type": "quantitative"}}},
    {"data": {"name": "lab"}, "transform": [{"filter": "datum.p == 'E' && datum.kind == 'w'"}], "mark": {"type": "text", "fontSize": 26, "baseline": "middle", "dy": -29, "color": "#1a1a1a"},
     "encoding": {"y": {"field": "y", "type": "quantitative"}, "text": {"field": "t", "type": "nominal"}}},
    {"data": {"name": "lab"}, "transform": [{"filter": "datum.p == 'E' && datum.kind == 'x'"}], "mark": {"type": "text", "fontSize": 26, "baseline": "middle", "dy": -29, "color": "#1a1a1a"},
     "encoding": {"xOffset": {"field": "trt", "type": "nominal"}, "y": {"field": "y", "type": "quantitative"}, "text": {"field": "t", "type": "nominal"}}}
   ],
   "resolve": {"scale": {"fill": "independent"}}
  },
  {"width": 1, "height": 322, "data": {"name": "ann"}, "transform": [{"filter": "datum.p == 'E'"}],
   "encoding": {"y": {"field": "k", "type": "nominal", "scale": {"type": "point", "domain": ["o", "f", "sex", "cis", "int"], "range": [115, 283], "padding": 0}, "axis": null}},
   "layer": [
    {"transform": [{"filter": "datum.val == null"}], "mark": {"type": "point", "shape": "circle", "size": 380, "filled": true, "stroke": "black", "strokeWidth": 4, "opacity": 1, "xOffset": 41},
     "encoding": {"fill": {"field": "k", "type": "nominal", "scale": {"domain": ["o", "f"], "range": ["white", "black"]}, "legend": null}}},
    {"transform": [{"filter": "datum.val == null"}], "mark": {"type": "text", "align": "left", "baseline": "middle", "dx": 87, "fontSize": 26.7, "color": "#1a1a1a"}, "encoding": {"text": {"field": "t", "type": "nominal"}}},
    {"transform": [{"filter": "datum.val != null"}], "mark": {"type": "text", "align": "left", "baseline": "middle", "dx": 34, "fontSize": 25.5, "color": "#1a1a1a"}, "encoding": {"text": {"value": "P"}}},
    {"transform": [{"filter": "datum.val != null"}], "mark": {"type": "text", "align": "left", "baseline": "middle", "dx": 52, "dy": 10, "fontSize": 20.5, "color": "#1a1a1a"}, "encoding": {"text": {"field": "t", "type": "nominal"}}},
    {"transform": [{"filter": "datum.k == 'sex'"}], "mark": {"type": "text", "align": "left", "baseline": "middle", "dx": 90, "fontSize": 25, "color": "#1a1a1a"}, "encoding": {"text": {"field": "val", "type": "nominal"}}},
    {"transform": [{"filter": "datum.k == 'cis'"}], "mark": {"type": "text", "align": "left", "baseline": "middle", "dx": 135, "fontSize": 25, "color": "#1a1a1a"}, "encoding": {"text": {"field": "val", "type": "nominal"}}},
    {"transform": [{"filter": "datum.k == 'int'"}], "mark": {"type": "text", "align": "left", "baseline": "middle", "dx": 151, "fontSize": 25, "color": "#1a1a1a"}, "encoding": {"text": {"field": "val", "type": "nominal"}}}
   ]
  }
 ]
}
